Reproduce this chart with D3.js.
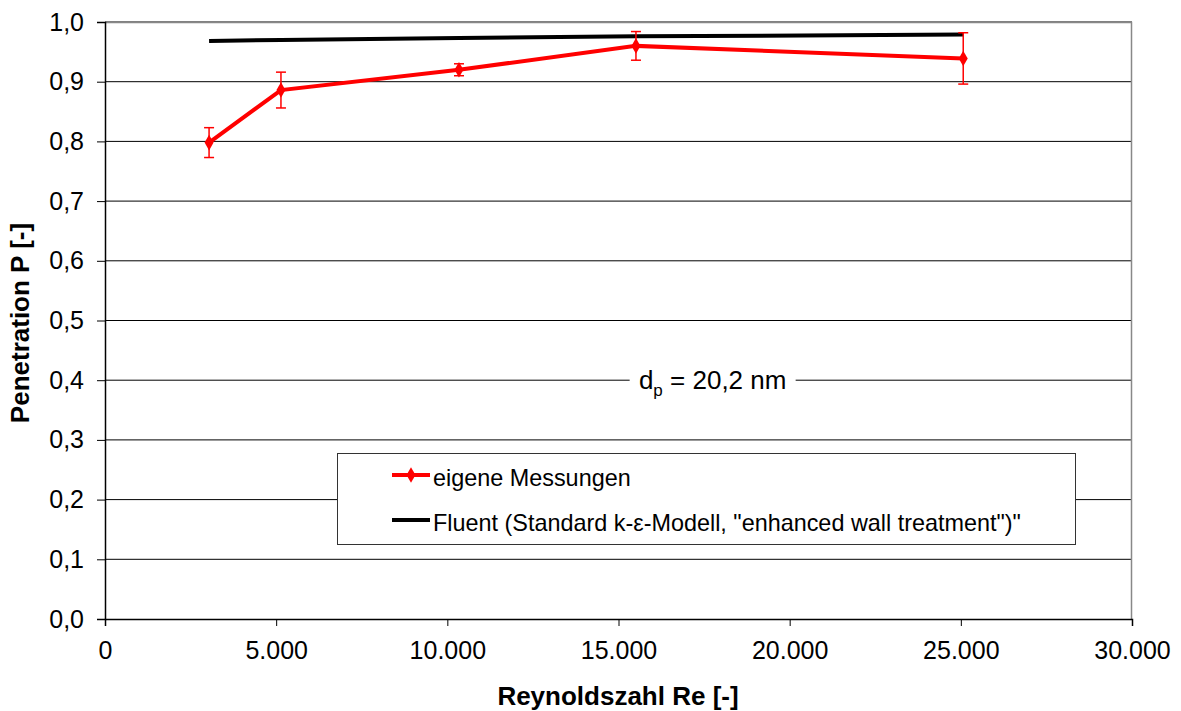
<!DOCTYPE html>
<html>
<head>
<meta charset="utf-8">
<script src="https://cdn.jsdelivr.net/npm/d3@7"></script>
<style>
  body { margin: 0; background: #fff; }
  svg { font-family: "Liberation Sans", Arial, sans-serif; }
</style>
</head>
<body>
<svg id="chart" width="1181" height="711"></svg>
<script>
// data
const reynolds = [3040, 5140, 10340, 15510, 25070];
const measured = [0.798, 0.886, 0.920, 0.960, 0.939];
const measuredErr = [0.025, 0.030, 0.010, 0.024, 0.043];
const fluent = [0.968, 0.970, 0.973, 0.976, 0.979];
const xTicks = [0, 5000, 10000, 15000, 20000, 25000, 30000];
const yTicks = [0, 0.1, 0.2, 0.3, 0.4, 0.5, 0.6, 0.7, 0.8, 0.9, 1.0];
const seriesNames = ["eigene Messungen", "Fluent (Standard k-\u03b5-Modell, \"enhanced wall treatment\")\""];

const margin = {top: 22, right: 49, bottom: 92, left: 105};
const width = 1181, height = 711;

const svg = d3.select("#chart");
const g = svg.append("g").attr("transform", `translate(${margin.left}, ${margin.top})`);
const w = width - margin.left - margin.right;
const h = height - margin.top - margin.bottom;

const x = d3.scaleLinear().domain([0, 30000]).range([0, w]);
const y = d3.scaleLinear().domain([0, 1]).range([h, 0]);

const fmtX = d3.formatLocale({decimal: ",", thousands: ".", grouping: [3], currency: ["", ""]}).format(",.0f");
const fmtY = d => d.toFixed(1).replace(".", ",");

// gridlines
g.append("g").selectAll("line")
  .data(yTicks.slice(1))
  .join("line")
  .attr("x1", 0).attr("x2", w)
  .attr("y1", d => y(d)).attr("y2", d => y(d))
  .attr("stroke", "#000").attr("stroke-width", 1);

// plot border top/right in grey
g.append("path")
  .attr("d", `M0,0.5H${w - 0.5}V${h}`)
  .attr("fill", "none").attr("stroke", "#888").attr("stroke-width", 1.5);

// axes
const yAxis = g.append("g")
  .call(d3.axisLeft(y).tickValues(yTicks).tickFormat(fmtY).tickSize(8).tickPadding(13));
const xAxis = g.append("g")
  .attr("transform", `translate(0, ${h})`)
  .call(d3.axisBottom(x).tickValues(xTicks).tickFormat(fmtX).tickSize(7).tickPadding(15));
[xAxis, yAxis].forEach(a => {
  a.select(".domain").attr("stroke", "#000").attr("stroke-width", 1.5);
  a.selectAll(".tick line").attr("stroke", "#000");
  a.selectAll("text").attr("font-size", 25).attr("fill", "#000")
    .attr("font-family", "Liberation Sans, Arial, sans-serif");
});

// annotation with white background
const note = g.append("g").attr("transform", `translate(${x(17750)}, ${y(0.4)})`);
note.append("rect").attr("x", -83).attr("y", -20).attr("width", 166).attr("height", 40).attr("fill", "#fff");
const noteText = note.append("text").attr("text-anchor", "middle").attr("dy", 9)
  .attr("font-size", 26).attr("fill", "#000");
noteText.append("tspan").text("d");
noteText.append("tspan").attr("font-size", 17).attr("dy", 7).text("p");
noteText.append("tspan").attr("dy", -7).text(" = 20,2 nm");

// fluent line
const line = d3.line().x((d, i) => x(reynolds[i])).y(d => y(d));
g.append("path").datum(fluent)
  .attr("d", line).attr("fill", "none").attr("stroke", "#000").attr("stroke-width", 4);

// measured line
g.append("path").datum(measured)
  .attr("d", line).attr("fill", "none").attr("stroke", "#f00").attr("stroke-width", 4);

// error bars
const err = g.append("g").attr("stroke", "#f00").attr("stroke-width", 1.5);
measured.forEach((v, i) => {
  const cx = x(reynolds[i]);
  const top = y(v + measuredErr[i]), bot = y(v - measuredErr[i]);
  err.append("line").attr("x1", cx).attr("x2", cx).attr("y1", top).attr("y2", bot);
  err.append("line").attr("x1", cx - 5).attr("x2", cx + 5).attr("y1", top).attr("y2", top);
  err.append("line").attr("x1", cx - 5).attr("x2", cx + 5).attr("y1", bot).attr("y2", bot);
});

// diamond markers
const diamond = d3.symbol().type(d3.symbolDiamond).size(70);
g.append("g").selectAll("path")
  .data(measured)
  .join("path")
  .attr("d", diamond)
  .attr("transform", (d, i) => `translate(${x(reynolds[i])}, ${y(d)})`)
  .attr("fill", "#f00");

// legend
const legend = svg.append("g").attr("transform", "translate(337, 453)");
legend.append("rect").attr("x", 0.5).attr("y", 0.5).attr("width", 738).attr("height", 91)
  .attr("fill", "#fff").attr("stroke", "#333").attr("stroke-width", 1);
const legColors = ["#f00", "#000"];
seriesNames.forEach((name, i) => {
  const ly = 22 + i * 45;
  legend.append("line").attr("x1", 55).attr("x2", 93).attr("y1", ly).attr("y2", ly)
    .attr("stroke", legColors[i]).attr("stroke-width", 4);
  if (i === 0) {
    legend.append("path").attr("d", diamond).attr("transform", `translate(74, ${ly})`).attr("fill", "#f00");
  }
  legend.append("text").attr("x", 96).attr("y", ly + 10.5).attr("font-size", 23.4).attr("fill", "#000").text(name);
});

// axis titles
svg.append("text")
  .attr("transform", `translate(29, 323) rotate(-90)`)
  .attr("text-anchor", "middle").attr("font-size", 26).attr("font-weight", "bold").text("Penetration P [-]");
svg.append("text")
  .attr("x", 618).attr("y", 705)
  .attr("text-anchor", "middle").attr("font-size", 26).attr("font-weight", "bold").text("Reynoldszahl Re [-]");
</script>
</body>
</html>
